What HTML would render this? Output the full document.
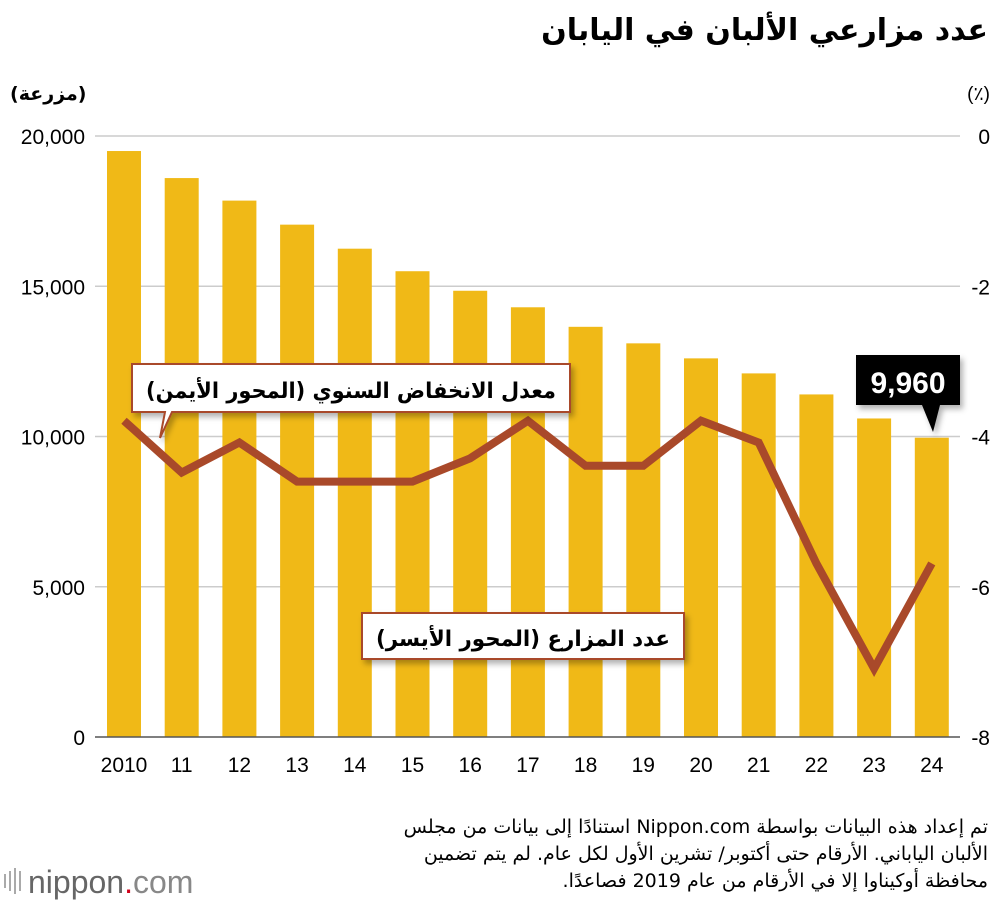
<!DOCTYPE html>
<html><head><meta charset="utf-8">
<style>
html,body{margin:0;padding:0;background:#fff;}
svg{display:block;}
text{font-family:"Liberation Sans","DejaVu Sans",sans-serif;}
.ar{font-family:"DejaVu Sans","Liberation Sans",sans-serif;}
</style></head><body>
<svg id="chart" width="1000" height="910" viewBox="0 0 1000 910" xmlns="http://www.w3.org/2000/svg">
<defs>
<filter id="sh" x="-10%" y="-20%" width="130%" height="160%"><feDropShadow dx="3" dy="4" stdDeviation="3" flood-color="#000" flood-opacity="0.3"/></filter>
</defs>
<text class="ar" x="988" y="40" text-anchor="start" font-size="30" font-weight="bold" fill="#000" direction="rtl">عدد مزارعي الألبان في اليابان</text>
<text class="ar" x="10" y="100" font-size="19" font-weight="bold" fill="#000">(مزرعة)</text>
<text x="990" y="100" text-anchor="end" font-size="19" fill="#000">(٪)</text>
<g id="grid"></g>
<g id="bars"></g>
<line x1="95" y1="737" x2="960" y2="737" stroke="#555" stroke-width="1.5"/>
<g id="yleft"></g>
<g id="yright"></g>
<g id="xlabels"></g>
<path id="line" fill="none" stroke="#a9492a" stroke-width="8" stroke-linejoin="miter"/>
<g filter="url(#sh)">
<path d="M132,364 H570 V412 H172 L160,438 L165,412 H132 Z" fill="#fff" stroke="#a9492a" stroke-width="2"/>
</g>
<text class="ar" x="556" y="398" text-anchor="start" font-size="22" font-weight="bold" fill="#000" direction="rtl" textLength="410" lengthAdjust="spacingAndGlyphs">معدل الانخفاض السنوي (المحور الأيمن)</text>
<g filter="url(#sh)">
<rect x="362" y="613" width="322" height="46" fill="#fff" stroke="#a9492a" stroke-width="2"/>
</g>
<text class="ar" x="670" y="646" text-anchor="start" font-size="22" font-weight="bold" fill="#000" direction="rtl" textLength="294" lengthAdjust="spacingAndGlyphs">عدد المزارع (المحور الأيسر)</text>
<g filter="url(#sh)">
<path d="M856,355 H960 V405 H940 L933,432 L922,405 H856 Z" fill="#000"/>
</g>
<text x="908" y="393" text-anchor="middle" font-size="30" font-weight="bold" fill="#fff">9,960</text>
<text class="ar" x="988" y="833" text-anchor="start" font-size="19" fill="#000" direction="rtl">تم إعداد هذه البيانات بواسطة Nippon.com استنادًا إلى بيانات من مجلس</text>
<text class="ar" x="988" y="860" text-anchor="start" font-size="19" fill="#000" direction="rtl">الألبان الياباني. الأرقام حتى أكتوبر/ تشرين الأول لكل عام. لم يتم تضمين</text>
<text class="ar" x="988" y="887" text-anchor="start" font-size="19" fill="#000" direction="rtl">محافظة أوكيناوا إلا في الأرقام من عام 2019 فصاعدًا.</text>
<g>
<rect x="4" y="874" width="2" height="14" fill="#aaa"/><rect x="9" y="871" width="2" height="20" fill="#aaa"/><rect x="14" y="868" width="2" height="26" fill="#aaa"/><rect x="19" y="871" width="2" height="20" fill="#aaa"/>
<text x="28" y="893" font-size="32" fill="#666">nippon<tspan fill="#d0021b">.</tspan><tspan fill="#888">com</tspan></text>
</g>
</svg>
<script>
const years = ["2010","11","12","13","14","15","16","17","18","19","20","21","22","23","24"];
const farms = [19500,18600,17850,17050,16250,15500,14850,14300,13650,13100,12600,12100,11400,10600,9960];
const declineRate = [-3.79,-4.48,-4.08,-4.6,-4.6,-4.6,-4.29,-3.79,-4.39,-4.39,-3.79,-4.08,-5.69,-7.09,-5.69];
const leftTicks = [0,5000,10000,15000,20000];
const leftTickLabels = ["0","5,000","10,000","15,000","20,000"];
const rightTicks = [0,-2,-4,-6,-8];
const rightTickLabels = ["0","-2","-4","-6","-8"];

const NS = "http://www.w3.org/2000/svg";
const yL = v => 737 - v / 20000 * 601;
const yR = v => 136 + (-v) / 8 * 601;
const xC = i => 124 + i * 57.7;
function mk(tag, attrs, parent, txt){
  const e = document.createElementNS(NS, tag);
  for (const k in attrs) e.setAttribute(k, attrs[k]);
  if (txt !== undefined) e.textContent = txt;
  parent.appendChild(e); return e;
}
const grid = document.getElementById('grid');
const yl = document.getElementById('yleft');
const yr = document.getElementById('yright');
leftTicks.forEach((t,i)=>{
  if (t !== 0) {
    const g = mk('line',{x1:95,x2:960,y1:yL(t),y2:yL(t),stroke:'#ccc','stroke-width':1.5},grid);
    
    
  }
  const tx = mk('text',{x:85,y:yL(t)+8,'text-anchor':'end','font-size':21,fill:'#000'},yl,leftTickLabels[i]);
  
  
});
rightTicks.forEach((t,i)=>{
  const tx = mk('text',{x:990,y:yR(t)+8,'text-anchor':'end','font-size':21,fill:'#000'},yr,rightTickLabels[i]);
  
  
});
const bars = document.getElementById('bars');
const xl = document.getElementById('xlabels');
farms.forEach((v,i)=>{
  const r = mk('rect',{x:xC(i)-17,y:yL(v),width:34,height:737-yL(v),fill:'#f0b917'},bars);
  
  
  const t = mk('text',{x:xC(i),y:772,'text-anchor':'middle','font-size':21,fill:'#000'},xl,years[i]);
  
  
});
document.getElementById('line').setAttribute('d', declineRate.map((v,i)=>(i?'L':'M')+xC(i)+','+yR(v)).join(' '));
</script>
</body></html>
